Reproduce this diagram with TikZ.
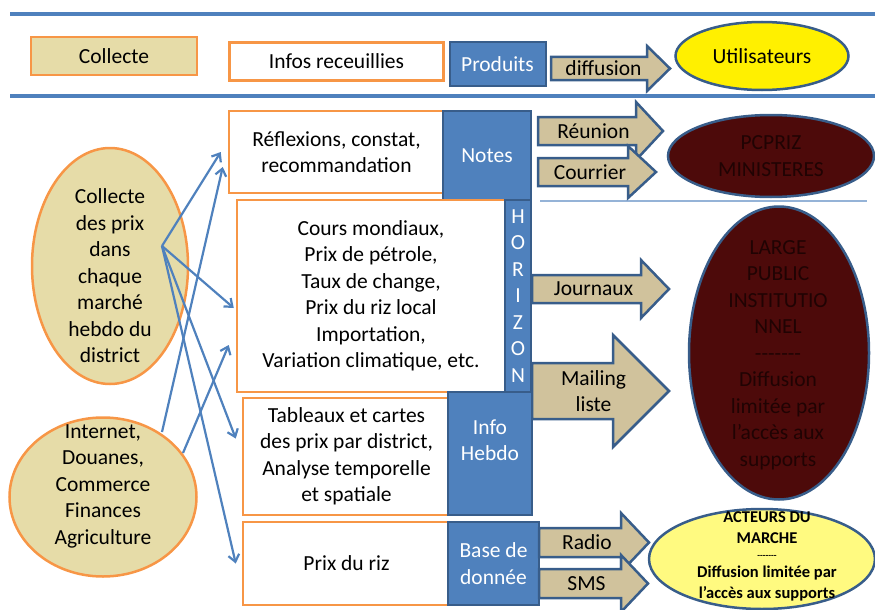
\documentclass[tikz,border=0pt]{standalone}
\usepackage{fontspec}
\setmainfont{Carlito}
\usepackage{tikz}
\usetikzlibrary{arrows.meta,shapes.geometric}

\definecolor{orng}{RGB}{247,150,70}
\definecolor{tanfill}{RGB}{230,220,168}
\definecolor{arrtan}{RGB}{208,194,156}
\definecolor{blu}{RGB}{79,129,189}
\definecolor{dkblu}{RGB}{56,93,138}
\definecolor{darkred}{RGB}{77,10,10}
\definecolor{inkred}{RGB}{32,3,3}
\definecolor{yel}{RGB}{255,240,0}
\definecolor{ltyel}{RGB}{255,250,128}
\definecolor{sepblu}{RGB}{149,179,215}

\tikzset{
 txt/.style={font=\fontsize{21.5}{26.5}\selectfont, align=center, inner sep=0pt, text=black},
 wbox/.style={txt, draw=orng, line width=2.5pt, fill=white},
 tbox/.style={wbox, fill=tanfill},
 bbox/.style={txt, draw=dkblu, line width=2pt, fill=blu, text=white},
 oell/.style={ellipse, inner sep=0pt, draw=orng, line width=2.5pt, fill=tanfill},
 bell/.style={ellipse, inner sep=0pt, draw=dkblu, line width=2.5pt},
 barrow/.style={draw=dkblu, line width=2.5pt, fill=arrtan, line join=miter},
 link/.style={draw=blu, line width=2.2pt, -{Straight Barb[length=7pt,width=11pt]}},
 bandline/.style={draw=blu, line width=4pt}
}

\newcommand{\blockarrow}[8]{%
 \draw[barrow] (#2,#5) -- (#3,#5) -- (#3,{#5-#7}) -- (#4,{(#5+#6)/2}) -- (#3,{#6+#7}) -- (#3,#6) -- (#2,#6) -- cycle;
 \node[txt] (#1) at ({(#2+#4)/2-7},{(#5+#6)/2}) {#8};}

\begin{document}
\begin{tikzpicture}[x=1pt,y=-1pt]
\useasboundingbox (0,0) rectangle (875,610);
\draw[bandline] (10,14) -- (875,14);
\draw[bandline] (10,96) -- (875,96);
\draw[sepblu, line width=1.5pt] (540,201) -- (867,201);

\node[tbox, minimum width=166, minimum height=38] (collecte) at (114,56) {Collecte};
\node[wbox, minimum width=214, minimum height=38] (infos) at (336.5,61.5) {Infos receuillies};
\node[bbox, minimum width=96, minimum height=43] (produits) at (497.5,64) {Produits};
\blockarrow{diffusion}{551}{647}{670}{57}{80}{11}{diffusion}
\node[bell, fill=yel, minimum width=173, minimum height=68] (users) at (762,56) {};
\node[txt] (userstext) at (users) {Utilisateurs};

\node[wbox, minimum width=215, minimum height=82] (reflex) at (336.5,152) {Réflexions, constat,\\recommandation};
\node[bbox, minimum width=88, minimum height=89] (notes) at (487,155.5) {Notes};
\blockarrow{reunion}{538}{636}{663}{117}{145}{15}{Réunion}
\blockarrow{courrier}{538}{628}{656}{158}{186}{12}{Courrier}
\node[bell, fill=darkred, minimum width=206, minimum height=82] (pcpriz) at (771,156) {};
\node[txt, text=inkred] (pcpriztext) at (pcpriz) {PCPRIZ\\MINISTERES};

\node[wbox, minimum width=268, minimum height=192] (cours) at (371,296) {Cours mondiaux,\\Prix de pétrole,\\Taux de change,\\Prix du riz local\\Importation,\\Variation climatique, etc.};
\node[bbox, minimum width=26, minimum height=192] (horizon) at (518,296) {H\\O\\R\\I\\Z\\O\\N};
\blockarrow{journaux}{532}{641}{669}{275}{303}{15}{Journaux}
\blockarrow{mailing}{532}{613}{669}{363}{419}{28}{Mailing\\liste}
\node[bell, fill=darkred, minimum width=180, minimum height=293] (large) at (779,353) {};
\node[txt, text=inkred] (largetext) at (778,355) {LARGE\\PUBLIC\\INSTITUTIO\\NNEL\\\mbox{-}\mbox{-}\mbox{-}\mbox{-}\mbox{-}\mbox{-}\mbox{-}\\Diffusion\\limitée par\\l’accès aux\\supports};

\node[wbox, minimum width=207, minimum height=117] (tableaux) at (346.5,456.5) {Tableaux et cartes\\des prix par district,\\Analyse temporelle\\et spatiale};
\node[bbox, minimum width=84, minimum height=123] (hebdo) at (490,453.5) {};
\node[txt, text=white] (hebdotext) at (490,440) {Info\\Hebdo};

\node[wbox, minimum width=207, minimum height=83] (prixriz) at (346.5,563.5) {Prix du riz};
\node[bbox, minimum width=91, minimum height=83] (base) at (493.5,563.5) {Base de\\donnée};
\blockarrow{radio}{539}{621}{649}{528}{557}{15}{Radio}
\blockarrow{sms}{539}{621}{648}{569}{598}{14}{SMS}
\node[bell, fill=ltyel, minimum width=226, minimum height=100] (acteurs) at (762,559) {};
\node[txt, font=\fontsize{16.5}{21}\selectfont\bfseries] (acteurstext) at (767,556) {ACTEURS DU\\MARCHE\\[-6pt]{\fontsize{9}{10}\selectfont\mbox{-}\mbox{-}\mbox{-}\mbox{-}\mbox{-}\mbox{-}\mbox{-}}\\[-2pt]Diffusion limitée par\\l’accès aux supports};

\node[oell, minimum width=156, minimum height=236] (collprix) at (110,266) {};
\node[txt] (collprixtext) at (110,276) {Collecte\\des prix\\dans\\chaque\\marché\\hebdo du\\district};
\node[oell, minimum width=187, minimum height=159] (internet) at (103,497) {};
\node[txt] (internettext) at (103,486) {Internet,\\Douanes,\\Commerce\\Finances\\Agriculture};

\coordinate (hub) at (162,246);
\coordinate (hubb) at (162,432);
\coordinate (hubc) at (183,453);
\draw[link] (hub) -- ([xshift=-7pt]reflex.west);
\draw[link] (hub) -- ([xshift=-2pt,yshift=-12pt]cours.west);
\draw[link] (hub) -- ([xshift=-6pt,yshift=18pt]tableaux.west);
\draw[link] (hub) -- ([xshift=-6pt]prixriz.west);
\draw[link] (hubb) -- ([xshift=-5pt,yshift=-15pt]reflex.west);
\draw[link] (hubc) -- ([xshift=-7pt,yshift=-49pt]cours.west);
\end{tikzpicture}
\end{document}
